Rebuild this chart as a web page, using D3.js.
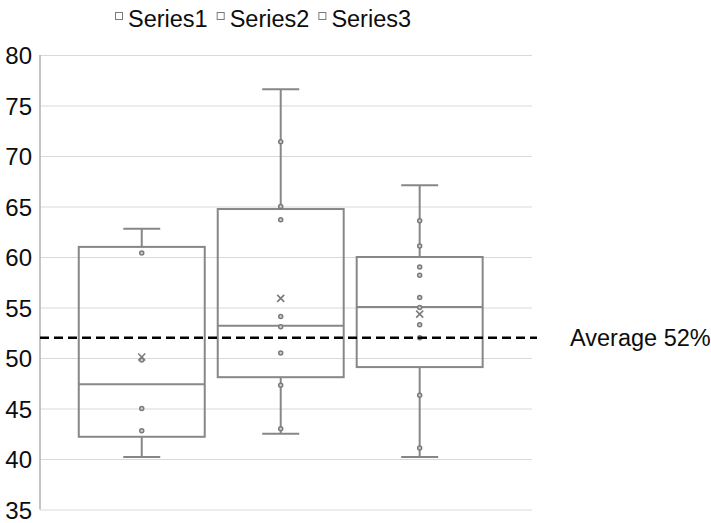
<!DOCTYPE html>
<html>
<head>
<meta charset="utf-8">
<script src="https://cdn.jsdelivr.net/npm/d3@7"></script>
<style>
  body { margin: 0; background: #fff; }
  svg { font-family: "Liberation Sans", Arial, sans-serif; }
</style>
</head>
<body>
<svg id="chart" width="711" height="523"></svg>
<script>
// values
const series = ["Series1", "Series2", "Series3"];
const whiskerLow = [40.2, 42.5, 40.2];
const q1 = [42.2, 48.1, 49.1];
const median = [47.4, 53.2, 55.05];
const q3 = [61.0, 64.75, 60.0];
const whiskerHigh = [62.8, 76.6, 67.1];
const means = [50.1, 55.9, 54.35];
const innerPoints = [
  [60.4, 49.8, 45.0, 42.8],
  [71.4, 65.0, 63.7, 54.1, 53.1, 50.5, 47.3, 43.0],
  [63.6, 61.1, 59.0, 58.2, 56.0, 55.0, 53.3, 52.0, 46.3, 41.1]
];
const yTicks = [35, 40, 45, 50, 55, 60, 65, 70, 75, 80];
const average = 52;
const averageLabel = "Average 52%";

const svg = d3.select("#chart");
const plotLeft = 40, plotRight = 532, plotTop = 55, plotBottom = 509.5;
const boxColor = "#878787";

let y = d3.scaleLinear().domain([35, 80]).range([plotBottom, plotTop]);
let x = d3.scaleBand()
  .domain(series)
  .range([plotLeft, plotRight])
  .paddingInner(0.0935)
  .paddingOuter(0.317)
  .align(0.44);

// gridlines
svg.append("g")
  .attr("transform", `translate(${plotLeft},0)`)
  .call(d3.axisLeft(y).tickValues(yTicks).tickSize(-(plotRight - plotLeft)).tickFormat(""))
  .call(g => g.select(".domain").remove())
  .call(g => g.selectAll("line").attr("stroke", "#d9d9d9").attr("stroke-width", 1));

// tick labels
svg.append("g")
  .attr("transform", `translate(${plotLeft},0)`)
  .call(d3.axisLeft(y).tickValues(yTicks).tickSize(0).tickPadding(8))
  .call(g => g.select(".domain").remove())
  .call(g => g.selectAll("text")
    .attr("font-size", 24)
    .attr("font-family", "Liberation Sans, Arial, sans-serif")
    .attr("fill", "#0d0d0d")
    .attr("dy", "0.37em"));

// axis line
svg.append("line")
  .attr("x1", plotLeft).attr("x2", plotLeft)
  .attr("y1", plotTop).attr("y2", plotBottom)
  .attr("stroke", "#b0b0b0")
  .attr("stroke-width", 1.5);

const box = svg.selectAll(".box")
  .data(series)
  .enter()
  .append("g")
  .attr("class", "box");

const cx = d => x(d) + x.bandwidth() / 2;
const capW = 37;

// whiskers
box.append("line")
  .attr("x1", cx).attr("x2", cx)
  .attr("y1", (d, i) => y(whiskerHigh[i]))
  .attr("y2", (d, i) => y(q3[i]))
  .attr("stroke", boxColor).attr("stroke-width", 2);
box.append("line")
  .attr("x1", cx).attr("x2", cx)
  .attr("y1", (d, i) => y(q1[i]))
  .attr("y2", (d, i) => y(whiskerLow[i]))
  .attr("stroke", boxColor).attr("stroke-width", 2);
box.append("line")
  .attr("x1", d => cx(d) - capW / 2).attr("x2", d => cx(d) + capW / 2)
  .attr("y1", (d, i) => y(whiskerHigh[i]))
  .attr("y2", (d, i) => y(whiskerHigh[i]))
  .attr("stroke", boxColor).attr("stroke-width", 2);
box.append("line")
  .attr("x1", d => cx(d) - capW / 2).attr("x2", d => cx(d) + capW / 2)
  .attr("y1", (d, i) => y(whiskerLow[i]))
  .attr("y2", (d, i) => y(whiskerLow[i]))
  .attr("stroke", boxColor).attr("stroke-width", 2);

// box
box.append("rect")
  .attr("x", d => x(d))
  .attr("width", x.bandwidth())
  .attr("y", (d, i) => y(q3[i]))
  .attr("height", (d, i) => y(q1[i]) - y(q3[i]))
  .attr("fill", "none")
  .attr("stroke", boxColor).attr("stroke-width", 2);

// median
box.append("line")
  .attr("x1", d => x(d)).attr("x2", d => x(d) + x.bandwidth())
  .attr("y1", (d, i) => y(median[i]))
  .attr("y2", (d, i) => y(median[i]))
  .attr("stroke", boxColor).attr("stroke-width", 2);

// inner points
box.selectAll(".pt")
  .data((d, i) => innerPoints[i].map(v => ({ s: d, v: v })))
  .enter()
  .append("circle")
  .attr("class", "pt")
  .attr("cx", p => cx(p.s))
  .attr("cy", p => y(p.v))
  .attr("r", 2)
  .attr("fill", "#d0d0d0")
  .attr("stroke", "#7a7a7a")
  .attr("stroke-width", 1.5);

// mean markers
const m = 3.5;
box.append("path")
  .attr("d", (d, i) => {
    const px = cx(d), py = y(means[i]);
    return `M${px - m},${py - m}L${px + m},${py + m}M${px - m},${py + m}L${px + m},${py - m}`;
  })
  .attr("stroke", "#7a7a7a")
  .attr("stroke-width", 1.6)
  .attr("fill", "none");

// average line
svg.append("line")
  .attr("x1", plotLeft).attr("x2", 537)
  .attr("y1", y(average)).attr("y2", y(average))
  .attr("stroke", "#000")
  .attr("stroke-width", 2.5)
  .attr("stroke-dasharray", "9,5");

svg.append("text")
  .attr("x", 570)
  .attr("y", y(average) + 8)
  .attr("font-size", 23.5)
  .attr("fill", "#0d0d0d")
  .text(averageLabel);

// legend
const legend = svg.append("g").attr("class", "legend");
let lx = 115;
series.forEach(s => {
  legend.append("rect")
    .attr("x", lx + 0.5).attr("y", 12.5)
    .attr("width", 7).attr("height", 7)
    .attr("fill", "#fff")
    .attr("stroke", "#7a7a7a")
    .attr("stroke-width", 1);
  const t = legend.append("text")
    .attr("x", lx + 13)
    .attr("y", 27)
    .attr("font-size", 23.5)
    .attr("fill", "#0d0d0d")
    .text(s);
  lx += 13 + t.node().getComputedTextLength() + 9;
});
</script>
</body>
</html>
